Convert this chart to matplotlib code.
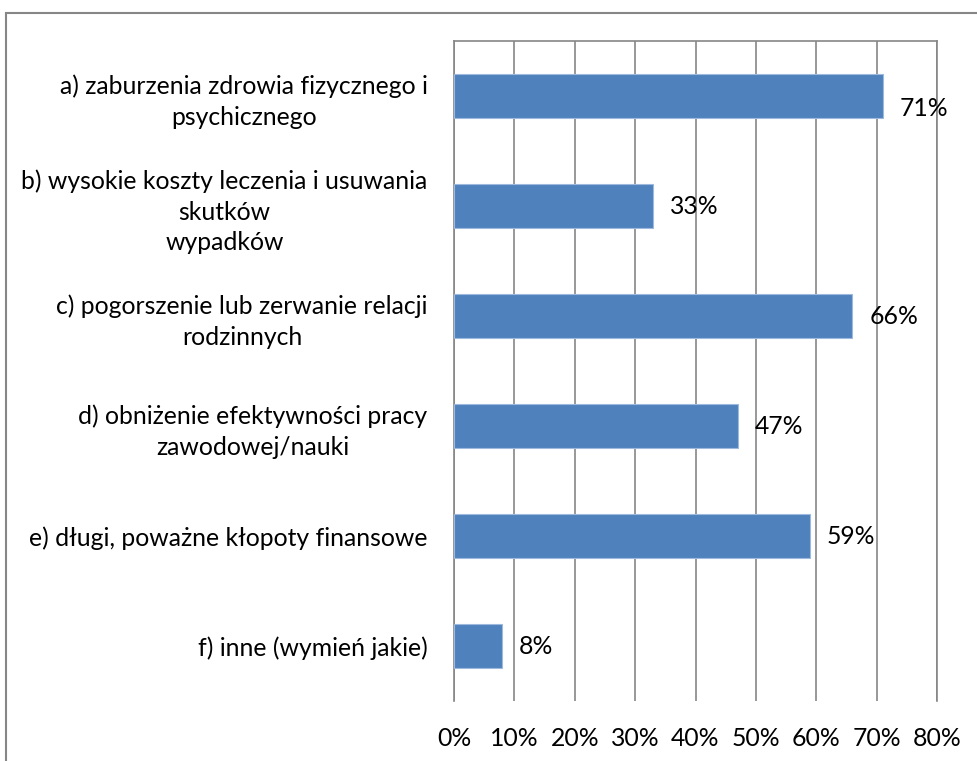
import matplotlib
matplotlib.use("Agg")
import matplotlib.pyplot as plt
from matplotlib.patches import Rectangle

categories = [
    "a) zaburzenia zdrowia fizycznego i\npsychicznego",
    "b) wysokie koszty leczenia i usuwania\nskutków\nwypadków",
    "c) pogorszenie lub zerwanie relacji\nrodzinnych",
    "d) obniżenie efektywności pracy\nzawodowej/nauki",
    "e) długi, poważne kłopoty finansowe",
    "f) inne (wymień jakie)",
]
values = [71, 33, 66, 47, 59, 8]
xticks = [0, 10, 20, 30, 40, 50, 60, 70, 80]
xtick_labels = ["0%", "10%", "20%", "30%", "40%", "50%", "60%", "70%", "80%"]

plt.rcParams['font.family'] = ['Lato', 'DejaVu Sans']
FS = 17.8
GRID = "#868686"

fig = plt.figure(figsize=(9.78, 7.61), dpi=100)
ax = fig.add_axes([454/978, 1-701/761, (937-454)/978, (701-41)/761])

ypos = list(range(len(categories)))
bars = ax.barh(ypos, values, height=0.4, color="#4F81BD", edgecolor="#9DB9DD", linewidth=0.8, zorder=3)

ax.set_xlim(0, 80)
ax.set_ylim(len(categories) - 0.5, -0.5)
ax.set_xticks(xticks)
ax.set_xticklabels(xtick_labels, fontsize=FS)
ax.set_yticks(ypos)
ax.set_yticklabels(categories, fontsize=FS, multialignment="center", linespacing=1.4)
ax.tick_params(axis="x", length=0, pad=19)
ax.tick_params(axis="y", length=0, pad=19)
ax.xaxis.grid(True, color=GRID, linewidth=1.2, zorder=0)
ax.yaxis.grid(False)
for side in ("left", "top", "right"):
    ax.spines[side].set_color(GRID)
    ax.spines[side].set_linewidth(1.2)
ax.spines["bottom"].set_visible(False)

label_dy = [-9, 0, 0, 0, 0, 0]
for b, v, dy in zip(bars, values, label_dy):
    ax.annotate(f"{v}%", xy=(b.get_width(), b.get_y() + b.get_height() / 2),
                xytext=(12, dy), textcoords="offset points",
                ha="left", va="center", fontsize=FS, zorder=4)

fig.patches.append(Rectangle((6.5/978, -0.1), 1.2, 1.1 - 13/761, transform=fig.transFigure,
                             fill=False, edgecolor=GRID, linewidth=1.5))

fig.savefig("out.png", dpi=100, facecolor="white")
